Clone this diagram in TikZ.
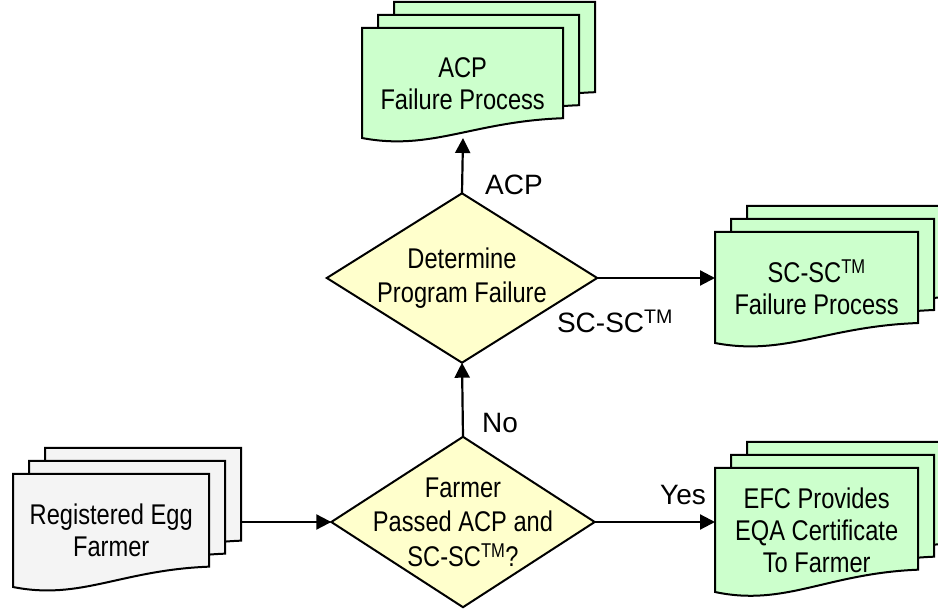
\documentclass[tikz,border=0pt]{standalone}
\usepackage{fontspec}
\setmainfont{Liberation Sans}
\newfontfamily\nodefont[FakeStretch=0.83]{Liberation Sans}
\usetikzlibrary{arrows.meta,backgrounds,calc}
\definecolor{docgreen}{HTML}{CCFFCC}
\definecolor{docgray}{HTML}{F4F4F4}
\definecolor{diayellow}{HTML}{FFFFCC}
\tikzset{
  shapeline/.style={draw=black, line width=2pt, line join=miter},
  txt/.style={font=\nodefont\fontsize{28.5}{32}\selectfont, align=center, inner sep=0pt, draw=none},
  dtxt/.style={font=\nodefont\fontsize{28.5}{34.5}\selectfont, align=center, inner sep=0pt, draw=none},
  lbl/.style={font=\fontsize{28}{32}\selectfont, inner sep=0pt, anchor=base},
  conn/.style={draw=black, line width=2.2pt, -{Triangle[length=15pt,width=15pt]}}
}
% name, left x, top y, width, height, fill, text
\newcommand\mdoc[7]{%
  \foreach \k in {2,1,0}{%
    \begin{scope}[shift={(#2+\k*16,-#3+\k*13)}]
      \draw[shapeline, fill=#6] (0,0) -- (#4,0) -- (#4,-0.82*#5)
        .. controls (0.55*#4,-0.85*#5) and (0.345*#4,-1.12*#5) .. (0,-#5) -- cycle;
    \end{scope}}%
  \node[txt, minimum width=#4 pt, minimum height=#5 pt, anchor=north west] (#1) at (#2,-#3) {#7};
}
\begin{document}
\begin{tikzpicture}[x=1pt,y=1pt]
\useasboundingbox (0,0) rectangle (938,-609);
\clip (0,0) rectangle (938,-609);

% documents
\mdoc{acp}{362}{28}{201}{110}{docgreen}{ACP\\Failure Process}
\mdoc{scsc}{715}{232}{203}{111}{docgreen}{SC-SC\textsuperscript{TM}\\Failure Process}
\mdoc{efc}{715}{468}{203}{124}{docgreen}{\fontsize{28.5}{35}\selectfont EFC Provides\\EQA Certificate\\To Farmer}
\mdoc{reg}{13}{474}{196}{113}{docgray}{Registered Egg\\Farmer}

% decisions
\node[dtxt, minimum width=270pt, minimum height=169pt] (d1) at (462,-278) {Determine\\Program Failure};
\node[dtxt, minimum width=263pt, minimum height=170pt] (d2) at (463,-522) {Farmer\\Passed ACP and\\SC-SC\textsuperscript{TM}?};
\begin{scope}[on background layer]
  \draw[shapeline, fill=diayellow] (d1.north) -- (d1.east) -- (d1.south) -- (d1.west) -- cycle;
  \draw[shapeline, fill=diayellow] (d2.north) -- (d2.east) -- (d2.south) -- (d2.west) -- cycle;
\end{scope}

% connectors
\coordinate (regout) at (242,-522);
\coordinate (acpin) at (463,-138);
\draw[conn] (regout) -- (d2.west);
\draw[conn] (d2.north) -- (d1.south);
\draw[conn] (d1.north) -- (acpin);
\draw[conn] (d1.east) -- (d1.east -| scsc.west);
\draw[conn] (d2.east) -- (d2.east -| efc.west);

% labels
\node[lbl] (lacp) at (514,-195) {ACP};
\node[lbl] (lno) at (500,-433) {No};
\node[lbl] (lsc) at (615,-333) {SC-SC\textsuperscript{TM}};
\node[lbl] (lyes) at (683,-505) {Yes};
\end{tikzpicture}
\end{document}
